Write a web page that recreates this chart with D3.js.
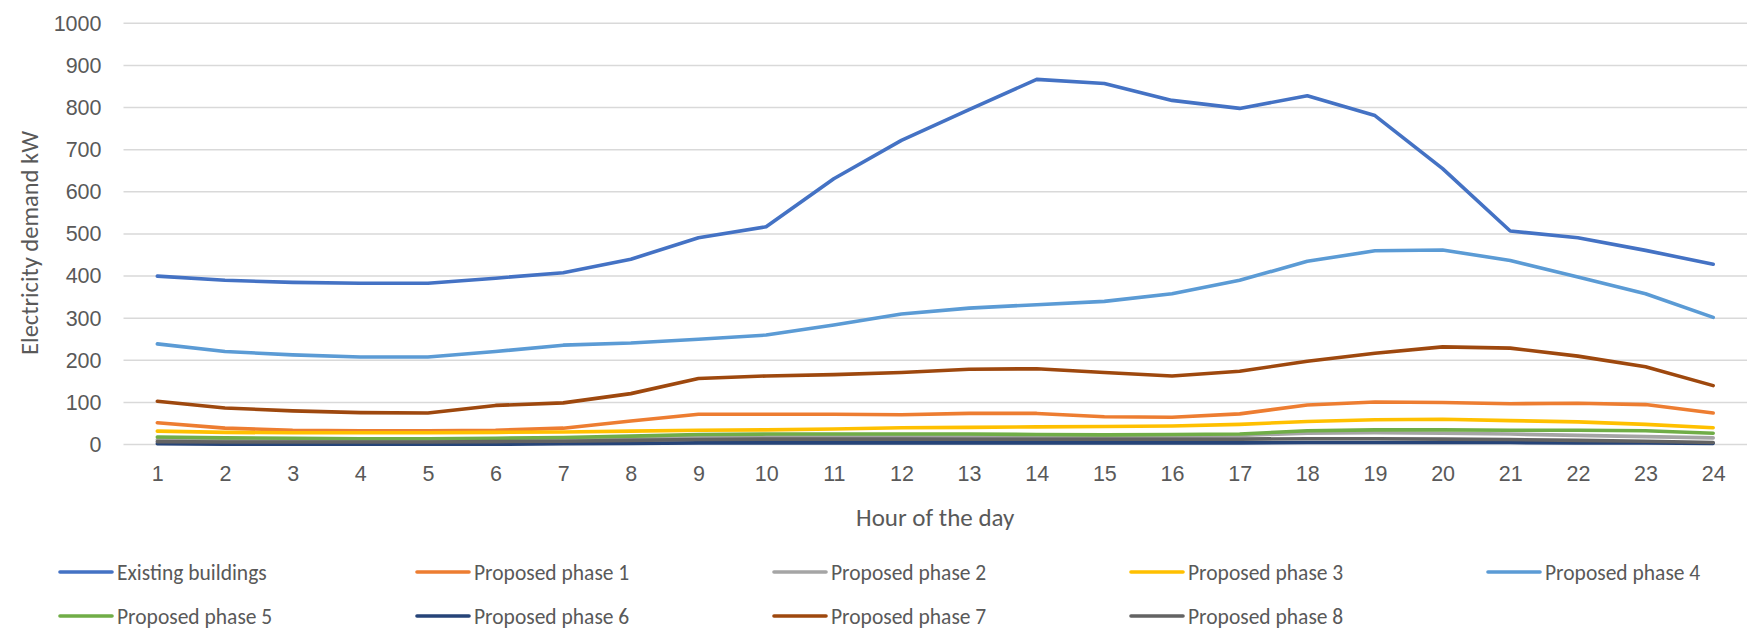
<!DOCTYPE html>
<html>
<head>
<meta charset="utf-8">
<script src="https://cdn.jsdelivr.net/npm/d3@7"></script>
<style>
  html, body { margin: 0; padding: 0; background: #fff; }
  svg { display: block; font-family: Carlito, Calibri, Lato, sans-serif; }
</style>
</head>
<body>
<svg id="chart" width="1751" height="630"></svg>
<script>
// Hourly electricity demand (kW) per building group
const hours = d3.range(1, 25);
const yTicks = [0, 100, 200, 300, 400, 500, 600, 700, 800, 900, 1000];

const existingBuildings = [400, 390, 385, 383, 383, 395, 408, 440, 491, 517, 631, 722, 795, 867, 857, 817, 798, 828, 781, 655, 507, 491, 461, 428];
const proposedPhase1 = [52, 39, 34, 33, 33, 34, 39, 56, 72, 72, 72, 71, 74, 74, 66, 65, 73, 94, 101, 100, 97, 98, 95, 75];
const proposedPhase2 = [12, 11, 10, 10, 10, 11, 13, 16, 19, 20, 20, 20, 21, 21, 21, 21, 22, 27, 28, 27, 25, 22, 19, 16];
const proposedPhase3 = [32, 29, 28, 28, 28, 29, 30, 32, 34, 35, 37, 40, 41, 42, 43, 44, 48, 55, 59, 60, 57, 54, 48, 40];
const proposedPhase4 = [239, 221, 213, 208, 208, 221, 236, 241, 250, 260, 284, 310, 324, 332, 340, 358, 390, 435, 460, 462, 437, 398, 358, 302];
const proposedPhase5 = [18, 16, 15, 14, 14, 15, 17, 20, 24, 25, 25, 25, 25, 24, 23, 24, 25, 33, 35, 35, 34, 34, 33, 27];
const proposedPhase6 = [2, 1, 1, 1, 1, 1, 2, 3, 4, 4, 4, 4, 4, 4, 4, 4, 4, 5, 5, 5, 5, 4, 4, 3];
const proposedPhase7 = [103, 87, 80, 76, 75, 93, 99, 121, 157, 163, 166, 171, 179, 180, 171, 163, 174, 198, 217, 232, 229, 210, 185, 140];
const proposedPhase8 = [7, 6, 6, 6, 6, 7, 8, 10, 12, 13, 13, 13, 13, 13, 13, 13, 13, 14, 14, 13, 12, 10, 8, 5];

const seriesNames = ["Existing buildings", "Proposed phase 1", "Proposed phase 2", "Proposed phase 3", "Proposed phase 4", "Proposed phase 5", "Proposed phase 6", "Proposed phase 7", "Proposed phase 8"];
const seriesValues = [existingBuildings, proposedPhase1, proposedPhase2, proposedPhase3, proposedPhase4, proposedPhase5, proposedPhase6, proposedPhase7, proposedPhase8];
const seriesColors = ["#4472C4", "#ED7D31", "#A5A5A5", "#FFC000", "#5B9BD5", "#70AD47", "#264478", "#9E480E", "#636363"];

const series = seriesNames.map((name, i) => ({ name, values: seriesValues[i], color: seriesColors[i] }));

const svg = d3.select("#chart");
const plot = { left: 123.5, right: 1747, top: 23.3, bottom: 444.6 };

const x = d3.scalePoint().domain(hours).range([plot.left, plot.right]).padding(0.5);
const y = d3.scaleLinear().domain([0, 1000]).range([plot.bottom, plot.top]);

const textColor = "#595959";
const gridColor = "#d9d9d9";

// Horizontal gridlines
svg.append("g")
  .selectAll("line")
  .data(yTicks)
  .join("line")
  .attr("x1", plot.left).attr("x2", plot.right)
  .attr("y1", d => y(d)).attr("y2", d => y(d))
  .attr("stroke", gridColor)
  .attr("stroke-width", 1.5);

// Y axis labels
const yAxis = svg.append("g")
  .attr("transform", `translate(${plot.left},0)`)
  .call(d3.axisLeft(y).tickValues(yTicks).tickFormat(d3.format("d")).tickSize(0).tickPadding(22));
yAxis.select(".domain").remove();
yAxis.selectAll("text")
  .attr("fill", textColor)
  .style("font-size", "21.5px");

// X axis labels
const xAxis = svg.append("g")
  .attr("transform", `translate(0,${plot.bottom})`)
  .call(d3.axisBottom(x).tickSize(0).tickPadding(21));
xAxis.select(".domain").remove();
xAxis.selectAll("text")
  .attr("fill", textColor)
  .style("font-size", "21.5px");

// Axis titles
svg.append("text")
  .attr("x", (plot.left + plot.right) / 2)
  .attr("y", 526)
  .attr("text-anchor", "middle")
  .attr("fill", textColor)
  .style("font-size", "25px")
  .text("Hour of the day");

svg.append("text")
  .attr("transform", `translate(38,243) rotate(-90)`)
  .attr("text-anchor", "middle")
  .attr("fill", textColor)
  .style("font-size", "24.5px")
  .text("Electricity demand kW");

// Series lines
const line = d3.line()
  .x((d, i) => x(hours[i]))
  .y(d => y(d));

svg.append("g")
  .selectAll("path")
  .data(series)
  .join("path")
  .attr("d", d => line(d.values))
  .attr("fill", "none")
  .attr("stroke", d => d.color)
  .attr("stroke-width", 3.6)
  .attr("stroke-linejoin", "round")
  .attr("stroke-linecap", "round");

// Legend: two rows of five columns
const legendCol = i => 60 + (i % 5) * 357;
const legendRow = i => 572 + Math.floor(i / 5) * 44;

const legend = svg.append("g")
  .selectAll("g")
  .data(series)
  .join("g")
  .attr("transform", (d, i) => `translate(${legendCol(i)},${legendRow(i)})`);

legend.append("line")
  .attr("x1", 0).attr("x2", 52)
  .attr("y1", 0).attr("y2", 0)
  .attr("stroke", d => d.color)
  .attr("stroke-width", 3.6)
  .attr("stroke-linecap", "round");

legend.append("text")
  .attr("x", 57)
  .attr("y", 0)
  .attr("dy", "0.35em")
  .attr("fill", textColor)
  .style("font-size", "21.5px")
  .text(d => d.name);
</script>
</body>
</html>
